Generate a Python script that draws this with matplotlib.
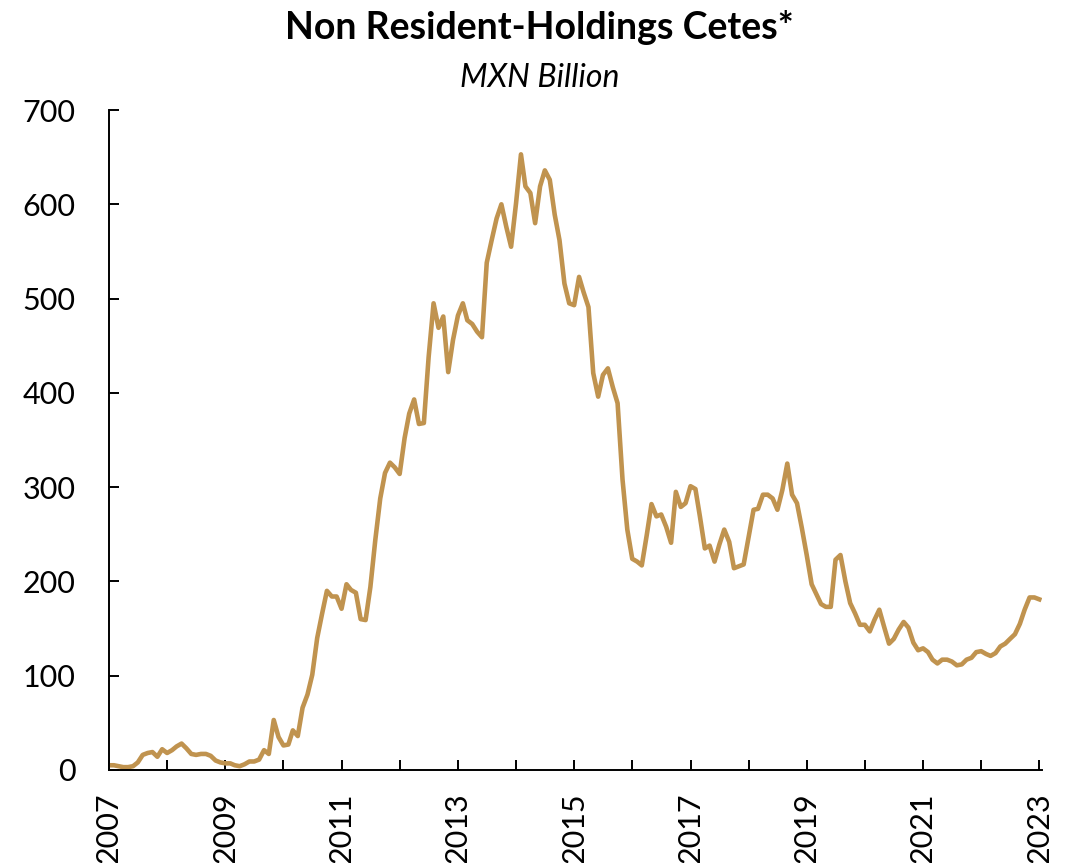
import numpy as np
import pandas as pd
import matplotlib
matplotlib.use("Agg")
import matplotlib.pyplot as plt
import matplotlib.dates as mdates
import matplotlib.ticker as ticker

plt.rcParams['font.family'] = ['Lato', 'DejaVu Sans']

# monthly holdings, Jan 2007 .. Jan 2023 (MXN bn)
holdings = [
    5, 5, 4, 3, 3, 4, 8, 16, 18, 19, 14, 22,            # 2007
    18, 21, 25, 28, 23, 17, 16, 17, 17, 15, 10, 8,       # 2008
    7, 7, 5, 4, 6, 9, 9, 11, 21, 17, 53, 35,             # 2009
    26, 27, 42, 36, 66, 80, 101, 140, 166, 190, 184, 184,  # 2010
    171, 197, 191, 188, 160, 159, 194, 244, 288, 315, 326, 321,  # 2011
    314, 352, 378, 393, 367, 368, 438, 495, 469, 481, 422, 456,  # 2012
    482, 495, 477, 473, 465, 459, 538, 562, 585, 600, 576, 555,  # 2013
    601, 653, 619, 612, 580, 619, 636, 626, 589, 562, 516, 495,  # 2014
    493, 523, 507, 491, 421, 396, 419, 426, 406, 389, 308, 255,  # 2015
    224, 221, 217, 249, 282, 269, 271, 258, 241, 295, 279, 283,  # 2016
    301, 298, 269, 235, 238, 221, 239, 255, 242, 214, 216, 218,  # 2017
    247, 276, 277, 292, 292, 288, 276, 297, 325, 292, 283, 257,  # 2018
    228, 197, 187, 176, 173, 173, 223, 228, 200, 177, 166, 154,  # 2019
    154, 147, 159, 170, 152, 134, 139, 149, 157, 151, 135, 127,  # 2020
    129, 125, 117, 113, 117, 117, 115, 111, 112, 117, 119, 125,  # 2021
    126, 123, 121, 124, 131, 134, 139, 144, 155, 170, 183, 183,  # 2022
    181,                                                 # 2023
]
dates = pd.date_range("2007-01-01", periods=len(holdings), freq="MS")

title = "Non Resident-Holdings Cetes*"
subtitle = "MXN Billion"
line_color = "#C0934F"

fig = plt.figure(figsize=(10.79, 8.63), dpi=100)
ax = fig.add_axes([0.1010, 0.1078, 0.8650, 0.7647])

ax.plot(dates, holdings, color=line_color, lw=3.3, solid_joinstyle='round')

ax.set_ylim(0, 700)
ax.yaxis.set_major_locator(ticker.MultipleLocator(100))
ax.set_xlim(pd.Timestamp("2007-01-01"), pd.Timestamp("2023-01-20"))
ax.xaxis.set_major_locator(mdates.YearLocator(1))
ax.xaxis.set_major_formatter(ticker.FuncFormatter(
    lambda v, pos: str(mdates.num2date(v).year) if mdates.num2date(v).year % 2 == 1 else ""))

for s in ("top", "right"):
    ax.spines[s].set_visible(False)
for s in ("left", "bottom"):
    ax.spines[s].set_linewidth(1.4)
    ax.spines[s].set_color("black")

ax.tick_params(axis='both', direction='in', length=7, width=1.4, labelsize=22)
ax.tick_params(axis='y', pad=24)
ax.tick_params(axis='x', pad=16)
plt.setp(ax.get_xticklabels(), rotation=90)

fig.text(0.5, 0.9548, title, ha='center', va='baseline', fontsize=27, fontweight='bold')
fig.text(0.5, 0.8992, subtitle, ha='center', va='baseline', fontsize=23, style='italic')

fig.savefig("out.png", dpi=100)
